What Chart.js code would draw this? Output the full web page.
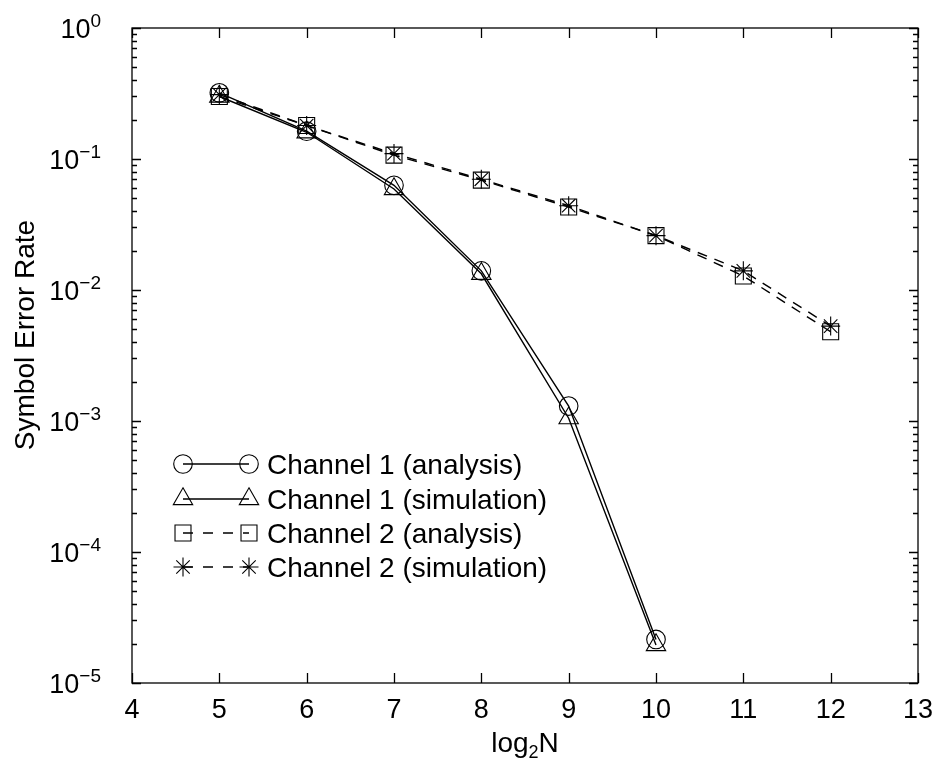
<!DOCTYPE html>
<html>
<head>
<meta charset="utf-8">
<title>Symbol Error Rate</title>
<script src="https://cdn.jsdelivr.net/npm/chart.js@4.4.1/dist/chart.umd.min.js"></script>
<style>
  html, body { margin: 0; padding: 0; background: #fff; }
  #wrap { width: 936px; height: 762px; }
</style>
</head>
<body>
<div id="wrap"><canvas id="ser"></canvas></div>
<script>
// data
const ch1X = [5, 6, 7, 8, 9, 10];
const ch1Analysis = [0.32, 0.163, 0.063, 0.014, 0.0013, 0.0000215];
const ch1Simulation = [0.30, 0.16, 0.059, 0.0133, 0.00105, 0.0000195];

const ch2X = [5, 6, 7, 8, 9, 10, 11, 12];
const ch2Analysis = [0.30, 0.18, 0.107, 0.069, 0.043, 0.026, 0.0128, 0.0048];
const ch2Simulation = [0.31, 0.18, 0.11, 0.070, 0.044, 0.026, 0.014, 0.0053];

const xTicks = [4, 5, 6, 7, 8, 9, 10, 11, 12, 13];
const yTickExps = [0, -1, -2, -3, -4, -5];
const seriesLabels = [
  "Channel 1 (analysis)",
  "Channel 1 (simulation)",
  "Channel 2 (analysis)",
  "Channel 2 (simulation)"
];

const FONT = '"Liberation Sans", Arial, Helvetica, sans-serif';
const DASH = [10, 8];

function pts(xs, ys) {
  return xs.map(function (x, i) { return { x: x, y: ys[i] }; });
}

function makeSet(label, data, style, radius, dashed) {
  return {
    label: label,
    data: data,
    borderColor: "#000",
    borderWidth: 1.4,
    borderDash: dashed ? DASH : [],
    pointStyle: style,
    pointRadius: radius,
    pointBorderColor: "#000",
    pointBackgroundColor: "rgba(0,0,0,0)",
    pointBorderWidth: 1.1,
    fill: false,
    tension: 0
  };
}

const datasets = [
  makeSet(seriesLabels[0], pts(ch1X, ch1Analysis), "circle", 9.3, false),
  makeSet(seriesLabels[1], pts(ch1X, ch1Simulation), "triangle", 11.2, false),
  makeSet(seriesLabels[2], pts(ch2X, ch2Analysis), "rect", 11.3, true),
  makeSet(seriesLabels[3], pts(ch2X, ch2Simulation), "star", 9.5, true)
];

// frame, inward ticks, labels with superscripts and the boxed-in legend
const framePlugin = {
  id: "frame",
  afterDraw: function (chart) {
    const ctx = chart.ctx;
    const a = chart.chartArea;
    const xs = chart.scales.x;
    const ys = chart.scales.y;

    ctx.save();
    ctx.strokeStyle = "#000";
    ctx.lineWidth = 1.3;
    ctx.strokeRect(a.left, a.top, a.right - a.left, a.bottom - a.top);

    ctx.beginPath();
    xTicks.forEach(function (t) {
      const px = Math.round(xs.getPixelForValue(t)) + 0.5;
      ctx.moveTo(px, a.bottom); ctx.lineTo(px, a.bottom - 10);
      ctx.moveTo(px, a.top); ctx.lineTo(px, a.top + 10);
    });
    yTickExps.forEach(function (e) {
      const py = Math.round(ys.getPixelForValue(Math.pow(10, e))) + 0.5;
      ctx.moveTo(a.left, py); ctx.lineTo(a.left + 9, py);
      ctx.moveTo(a.right, py); ctx.lineTo(a.right - 9, py);
      if (e > yTickExps[yTickExps.length - 1]) {
        for (let m = 2; m <= 9; m++) {
          const my = Math.round(ys.getPixelForValue(m * Math.pow(10, e - 1))) + 0.5;
          ctx.moveTo(a.left, my); ctx.lineTo(a.left + 5, my);
          ctx.moveTo(a.right, my); ctx.lineTo(a.right - 5, my);
        }
      }
    });
    ctx.stroke();

    ctx.fillStyle = "#000";
    ctx.font = "27px " + FONT;
    ctx.textAlign = "center";
    ctx.textBaseline = "alphabetic";
    xTicks.forEach(function (t) {
      ctx.fillText(String(t), xs.getPixelForValue(t), a.bottom + 35);
    });

    yTickExps.forEach(function (e) {
      const py = ys.getPixelForValue(Math.pow(10, e));
      const expText = e === 0 ? "0" : "\u2212" + Math.abs(e);
      ctx.font = "19px " + FONT;
      ctx.textAlign = "right";
      ctx.fillText(expText, a.left - 31, py - 1);
      const w = ctx.measureText(expText).width;
      ctx.font = "27px " + FONT;
      ctx.fillText("10", a.left - 31 - w, py + 10);
    });

    // axis titles
    ctx.save();
    ctx.translate(34, 335);
    ctx.rotate(-Math.PI / 2);
    ctx.font = "28px " + FONT;
    ctx.textAlign = "center";
    ctx.fillText("Symbol Error Rate", 0, 0);
    ctx.restore();

    ctx.font = "28px " + FONT;
    const wLog = ctx.measureText("log").width;
    const wN = ctx.measureText("N").width;
    ctx.font = "18px " + FONT;
    const wSub = ctx.measureText("2").width;
    const cx = (a.left + a.right) / 2;
    const tx = cx - (wLog + wSub + wN) / 2;
    const ty = a.bottom + 69;
    ctx.textAlign = "left";
    ctx.font = "28px " + FONT;
    ctx.fillText("log", tx, ty);
    ctx.font = "18px " + FONT;
    ctx.fillText("2", tx + wLog, ty + 6);
    ctx.font = "28px " + FONT;
    ctx.fillText("N", tx + wLog + wSub, ty);

    // legend
    const lx0 = 183, lx1 = 249, ltext = 267;
    const rowY = [464, 499, 533, 567];
    chart.data.datasets.forEach(function (ds, i) {
      const y = rowY[i];
      ctx.lineWidth = 1.4;
      ctx.setLineDash(ds.borderDash.length ? [10, 10] : []);
      ctx.beginPath();
      ctx.moveTo(lx0, y); ctx.lineTo(lx1, y);
      ctx.stroke();
      ctx.setLineDash([]);
      ctx.lineWidth = ds.pointBorderWidth;
      ctx.fillStyle = "rgba(0,0,0,0)";
      [lx0, lx1].forEach(function (px) {
        Chart.helpers.drawPoint(ctx, {
          pointStyle: ds.pointStyle,
          radius: ds.pointRadius,
          rotation: 0,
          borderWidth: ds.pointBorderWidth
        }, px, y);
      });
      ctx.fillStyle = "#000";
      ctx.font = "28px " + FONT;
      ctx.textAlign = "left";
      ctx.fillText(ds.label, ltext, y + 10);
    });
    ctx.restore();
  }
};

new Chart(document.getElementById("ser"), {
  type: "line",
  data: { datasets: datasets },
  options: {
    responsive: true,
    maintainAspectRatio: false,
    animation: false,
    events: [],
    layout: { padding: { left: 132, right: 18, top: 28, bottom: 79 } },
    plugins: { legend: { display: false }, tooltip: { enabled: false } },
    scales: {
      x: { type: "linear", min: 4, max: 13, display: false },
      y: { type: "logarithmic", min: 1e-5, max: 1, display: false }
    }
  },
  plugins: [framePlugin]
});
</script>
</body>
</html>
